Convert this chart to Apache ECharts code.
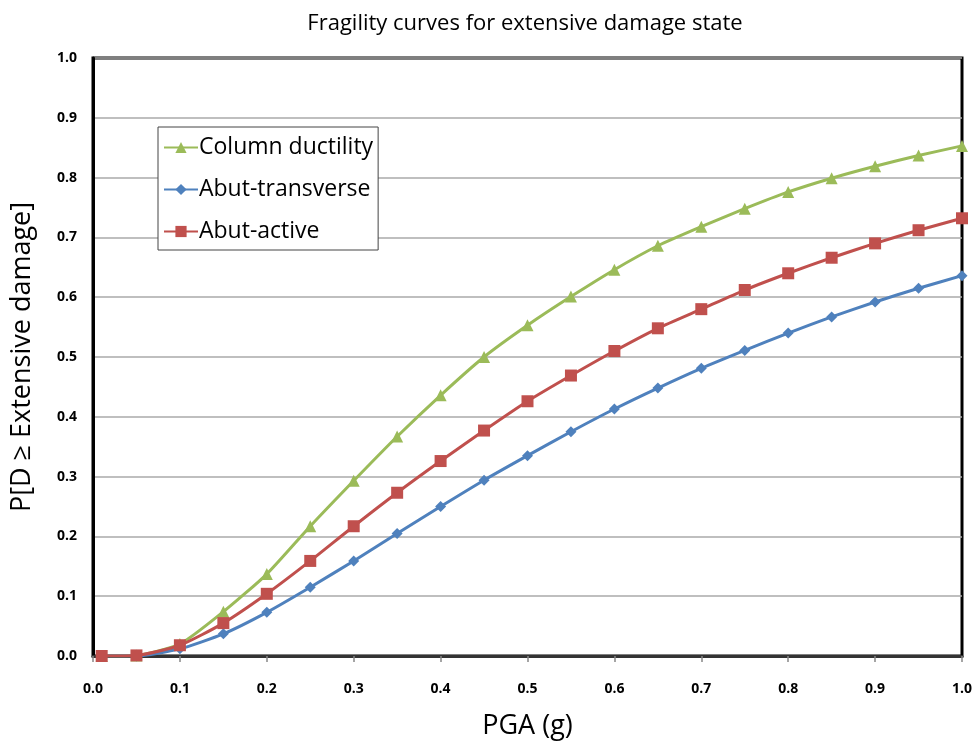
<!DOCTYPE html>
<html><head><meta charset="utf-8">
<script src="https://cdn.jsdelivr.net/npm/echarts@6/dist/echarts.min.js"></script>
<style>html,body{margin:0;padding:0;background:#fff}#c{width:975px;height:747px}</style>
</head><body><div id="c"></div>
<script>
const pga = [0.01,0.05,0.1,0.15,0.2,0.25,0.3,0.35,0.4,0.45,0.5,0.55,0.6,0.65,0.7,0.75,0.8,0.85,0.9,0.95,1.0];
const columnDuctility = [0,0.001,0.02,0.074,0.137,0.217,0.293,0.367,0.436,0.5,0.553,0.601,0.646,0.686,0.718,0.748,0.776,0.799,0.819,0.837,0.853];
const abutTransverse = [0,0,0.012,0.037,0.073,0.115,0.159,0.205,0.25,0.294,0.335,0.375,0.413,0.448,0.481,0.511,0.54,0.567,0.592,0.615,0.636];
const abutActive = [0,0.001,0.018,0.055,0.104,0.159,0.217,0.273,0.326,0.377,0.426,0.469,0.51,0.548,0.58,0.612,0.64,0.666,0.69,0.712,0.732];
const yTicks = [0,0.1,0.2,0.3,0.4,0.5,0.6,0.7,0.8,0.9,1.0];

const pair = (ys) => pga.map((x,i)=>[x, ys[i]]);
const font = '"Open Sans", "Noto Sans", sans-serif';
const chart = echarts.init(document.getElementById('c'));
chart.setOption({
  animation:false,
  title:{text:'Fragility curves for extensive damage state', left:520, textAlign:'center', top:8,
    textStyle:{fontFamily:font, fontSize:22, fontWeight:'normal', color:'#000'}},
  grid:{left:93, right:13, top:58, bottom:91, containLabel:false, outerBoundsMode:'none',
    show:true, borderColor:'#000', borderWidth:3, backgroundColor:'#fff'},
  legend:{orient:'vertical', left:158, top:127, padding:[9,5,7,5], itemGap:19, itemWidth:34, itemHeight:14,
    backgroundColor:'#fff', borderColor:'#444', borderWidth:1,
    textStyle:{fontFamily:font, fontSize:23, color:'#000', padding:[0,0,0,-4]},
    data:['Column ductility','Abut-transverse','Abut-active']},
  xAxis:{type:'value', min:0, max:1, interval:0.1,
    name:'PGA (g)', nameLocation:'middle', nameGap:57, nameTextStyle:{fontFamily:font, fontSize:27, color:'#000'},
    axisLine:{show:true, onZero:false, lineStyle:{color:'#333', width:3}},
    axisTick:{show:true, inside:false, length:6, lineStyle:{color:'#888', width:1.5}},
    axisLabel:{fontFamily:font, fontSize:14, fontWeight:'bold', color:'#000', margin:26, formatter:v=>v.toFixed(1)},
    splitLine:{show:false}},
  yAxis:{type:'value', min:0, max:1, interval:0.1,
    name:'P[D \u2265 Extensive damage]', nameLocation:'middle', nameGap:57, nameRotate:90,
    nameTextStyle:{fontFamily:font, fontSize:27, color:'#000'},
    axisLine:{show:true, lineStyle:{color:'#000', width:3}},
    axisTick:{show:false},
    axisLabel:{fontFamily:font, fontSize:14, fontWeight:'bold', color:'#000', margin:16, formatter:v=>v.toFixed(1)},
    splitLine:{show:true, lineStyle:{color:'#aaa', width:1.5}}},
  series:[
    {name:'Column ductility', type:'line', data:pair(columnDuctility), smooth:0.2, symbol:'triangle', symbolSize:12,
      color:'#9BBB59', lineStyle:{width:3}, itemStyle:{color:'#9BBB59'}},
    {name:'Abut-transverse', type:'line', data:pair(abutTransverse), smooth:0.2, symbol:'diamond', symbolSize:11,
      color:'#4F81BD', lineStyle:{width:3}, itemStyle:{color:'#4F81BD'}},
    {name:'Abut-active', type:'line', data:pair(abutActive), smooth:0.2, symbol:'rect', symbolSize:12,
      color:'#C0504D', lineStyle:{width:3}, itemStyle:{color:'#C0504D'}}
  ]
});
</script></body></html>
